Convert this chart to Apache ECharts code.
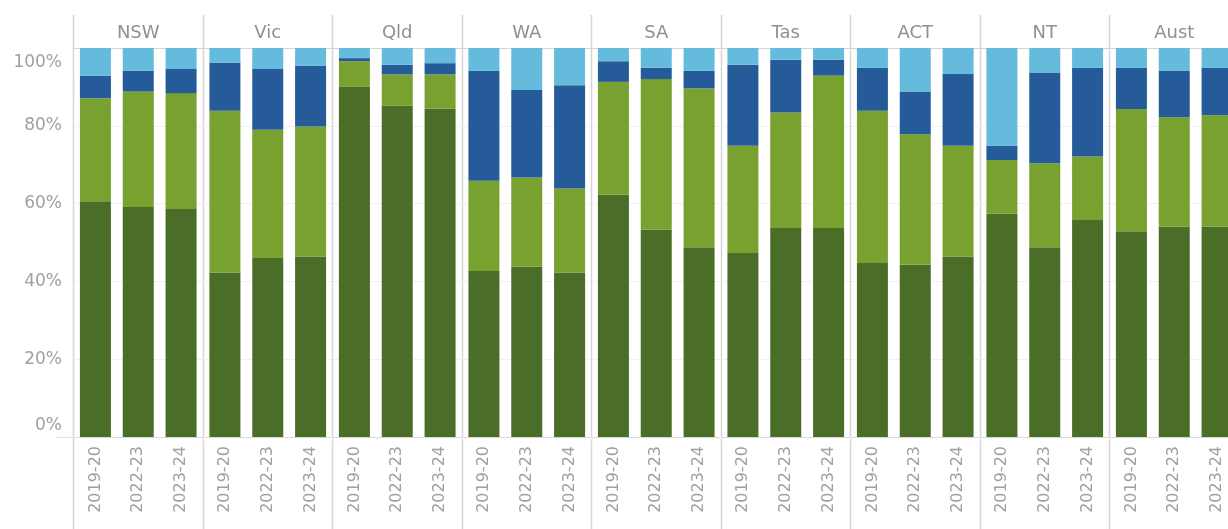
<!DOCTYPE html>
<html>
<head>
<meta charset="utf-8">
<title>Stacked shares by state</title>
<script src="https://cdn.jsdelivr.net/npm/echarts@6/dist/echarts.min.js"></script>
<style>
  html, body { margin: 0; padding: 0; background: #fff; }
  #chart { width: 1228px; height: 529px; }
</style>
</head>
<body>
<div id="chart"></div>
<script>
// data, percent of each bar (bottom to top)
const states = ['NSW', 'Vic', 'Qld', 'WA', 'SA', 'Tas', 'ACT', 'NT', 'Aust'];
const years = ['2019-20', '2022-23', '2023-24'];

const darkGreen = [
  [60.6, 59.1, 58.6], [42.3, 46.0, 46.4], [90.0, 85.2, 84.4],
  [42.7, 43.8, 42.3], [62.3, 53.3, 48.8], [47.3, 53.7, 53.7],
  [44.7, 44.3, 46.4], [57.4, 48.8, 55.8], [52.9, 54.1, 54.1],
];
const lightGreen = [
  [26.5, 29.7, 29.8], [41.6, 33.0, 33.4], [6.6, 8.0, 8.8],
  [23.2, 22.9, 21.6], [29.0, 38.7, 40.8], [27.6, 29.7, 39.2],
  [39.2, 33.5, 28.5], [13.8, 21.6, 16.3], [31.4, 28.1, 28.6],
];
const darkBlue = [
  [5.8, 5.4, 6.2], [12.3, 15.6, 15.6], [0.8, 2.5, 2.9],
  [28.2, 22.5, 26.5], [5.3, 2.9, 4.5], [20.8, 13.6, 4.1],
  [11.0, 11.0, 18.4], [3.7, 23.3, 22.8], [10.6, 12.0, 12.2],
];
const lightBlue = [
  [7.1, 5.8, 5.4], [3.8, 5.4, 4.6], [2.6, 4.3, 3.9],
  [5.9, 10.8, 9.6], [3.4, 5.1, 5.9], [4.3, 3.0, 3.0],
  [5.1, 11.2, 6.7], [25.1, 6.3, 5.1], [5.1, 5.8, 5.1],
];

const layers = [
  { name: 'dark green', values: darkGreen, color: '#4a6e28' },
  { name: 'light green', values: lightGreen, color: '#78a130' },
  { name: 'dark blue', values: darkBlue, color: '#255b99' },
  { name: 'light blue', values: lightBlue, color: '#64bbdc' },
];

// layout
const PANEL_LEFT = 74;
const PANEL_W = 129.5;
const PLOT_TOP = 48;
const PLOT_H = 389;
const FONT = '"DejaVu Sans", "Noto Sans", sans-serif';
const TEXT = '#a0a0a0';
const RULE = '#d6d6d6';

const grid = [];
const xAxis = [];
const yAxis = [];
const series = [];

states.forEach((state, i) => {
  grid.push({
    left: PANEL_LEFT + i * PANEL_W,
    top: PLOT_TOP,
    width: PANEL_W - 1,
    height: PLOT_H,
    outerBoundsMode: 'none', // last panel runs past the right edge
  });
  // years along the bottom
  xAxis.push({
    gridIndex: i,
    type: 'category',
    data: years,
    position: 'bottom',
    axisLine: { lineStyle: { color: RULE } },
    axisTick: { show: true, length: 4, lineStyle: { color: '#ececec' } },
    axisLabel: {
      rotate: 90,
      margin: 9,
      color: TEXT,
      fontFamily: FONT,
      fontSize: 16,
      interval: 0,
    },
  });
  // state header on top
  xAxis.push({
    gridIndex: i,
    type: 'category',
    data: [state],
    position: 'top',
    axisLine: { lineStyle: { color: RULE } },
    axisTick: { show: false },
    axisLabel: {
      margin: 6,
      color: '#909090',
      fontFamily: FONT,
      fontSize: 18,
    },
  });
  yAxis.push({
    gridIndex: i,
    type: 'value',
    min: 0,
    max: 100,
    interval: 20,
    axisLine: { show: false },
    axisTick: { show: false },
    splitLine: { lineStyle: { color: '#f1f1f1' } },
    axisLabel: {
      show: i === 0,
      margin: 12,
      color: TEXT,
      fontFamily: FONT,
      fontSize: 17,
      // end labels are nudged inside the plot, as in the original
      formatter: (v) => {
        if (v === 100) return '{top|' + v + '%}';
        if (v === 0) return '{bot|' + v + '%}';
        return v + '%';
      },
      rich: {
        top: { color: TEXT, fontFamily: FONT, fontSize: 17, padding: [30, 0, 0, 0] },
        bot: { color: TEXT, fontFamily: FONT, fontSize: 17, padding: [0, 0, 22, 0] },
      },
    },
  });
  layers.forEach((layer) => {
    series.push({
      type: 'bar',
      name: layer.name,
      xAxisIndex: i * 2,
      yAxisIndex: i,
      stack: 'state' + i,
      barWidth: 31,
      data: layer.values[i],
      itemStyle: { color: layer.color },
      emphasis: { disabled: true },
    });
  });
});

// panel separators run from the header down to the bottom edge
const graphic = [];
for (let i = 0; i <= states.length; i++) {
  const x = Math.round(PANEL_LEFT + i * PANEL_W) - 0.5;
  graphic.push({
    type: 'line',
    shape: { x1: x, y1: 15, x2: x, y2: 529 },
    style: { stroke: RULE, lineWidth: 1.5 },
    silent: true,
  });
}
// the baseline reaches a little left of the first panel
graphic.push({
  type: 'line',
  shape: { x1: 56, y1: PLOT_TOP + PLOT_H + 0.5, x2: PANEL_LEFT, y2: PLOT_TOP + PLOT_H + 0.5 },
  style: { stroke: '#e4e4e4', lineWidth: 1 },
  silent: true,
});

const chart = echarts.init(document.getElementById('chart'), null, { renderer: 'canvas' });
chart.setOption({
  animation: false,
  backgroundColor: '#ffffff',
  grid,
  xAxis,
  yAxis,
  series,
  graphic,
});
</script>
</body>
</html>
